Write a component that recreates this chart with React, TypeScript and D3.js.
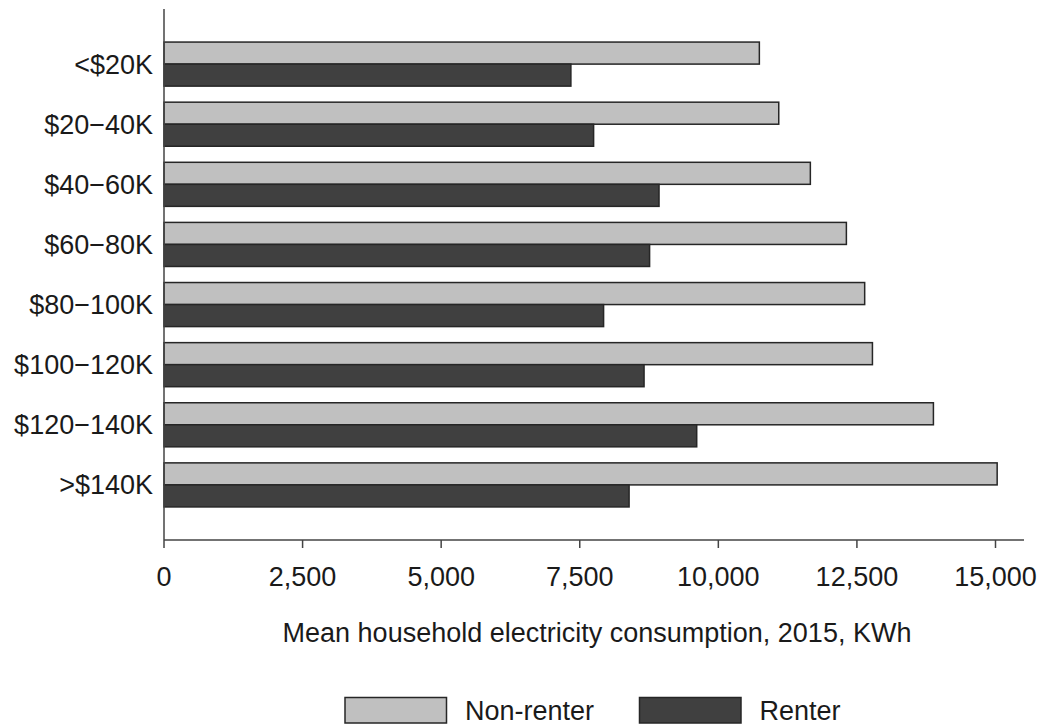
import React from "react";
import * as d3 from "d3";

const categories = ["<$20K", "$20\u221240K", "$40\u221260K", "$60\u221280K", "$80\u2212100K", "$100\u2212120K", "$120\u2212140K", ">$140K"];
const nonRenter = [10740, 11090, 11660, 12310, 12640, 12780, 13880, 15030];
const renter = [7340, 7750, 8930, 8760, 7930, 8660, 9610, 8390];
const xTicks = [0, 2500, 5000, 7500, 10000, 12500, 15000];
const seriesNames = ["Non-renter", "Renter"];
const seriesColors = ["#c0c0c0", "#404040"];

const W = 1042, H = 727;
const x0 = 164, xEnd = 1024, yTop = 9, yAxis = 540;
const FONT = "'Liberation Sans', Arial, sans-serif";
const FS = 27;

export default function App() {
  const x = d3.scaleLinear().domain([0, 15000]).range([x0, 995.5]);
  const y = d3.scaleBand<string>().domain(categories).range([yTop, yAxis]).paddingInner(0.267).paddingOuter(0.55);
  const sub = d3.scaleBand<number>().domain([0, 1]).range([0, y.bandwidth()]);
  const fmt = d3.format(",");
  const series = [nonRenter, renter];
  const stroke = "#262626";
  return (
    <svg width={W} height={H} style={{ position: "absolute", left: 0, top: 0, background: "#fff" }} fontFamily={FONT}>
      {categories.map((c, i) => (
        <g key={c}>
          {series.map((s, k) => (
            <rect key={k} x={x(0)} y={(y(c) as number) + (sub(k) as number)} width={x(s[i]) - x(0)} height={sub.bandwidth()}
              fill={seriesColors[k]} stroke={stroke} strokeWidth={1.5} />
          ))}
          <text x={153} y={(y(c) as number) + y.bandwidth() / 2} dy="0.35em" textAnchor="end" fontSize={FS} fill="#1a1a1a">{c}</text>
        </g>
      ))}
      <line x1={x0} x2={x0} y1={yTop} y2={yAxis} stroke="#444" strokeWidth={1.5} />
      <line x1={x0} x2={xEnd} y1={yAxis} y2={yAxis} stroke="#444" strokeWidth={1.5} />
      {xTicks.map((t) => (
        <g key={t}>
          <line x1={x(t)} x2={x(t)} y1={yAxis} y2={yAxis + 8} stroke="#444" strokeWidth={1.5} />
          <text x={x(t)} y={577} dy="0.35em" textAnchor="middle" fontSize={FS} fill="#1a1a1a">{fmt(t)}</text>
        </g>
      ))}
      <text x={597} y={633} dy="0.35em" textAnchor="middle" fontSize={FS} fill="#1a1a1a">Mean household electricity consumption, 2015, KWh</text>
      {seriesNames.map((n, k) => {
        const lx = [345, 639.5][k];
        return (
          <g key={n}>
            <rect x={lx} y={697.5} width={101.5} height={25.5} fill={seriesColors[k]} stroke={stroke} strokeWidth={1.5} />
            <text x={lx + 120} y={711} dy="0.35em" fontSize={FS} fill="#1a1a1a">{n}</text>
          </g>
        );
      })}
    </svg>
  );
}
